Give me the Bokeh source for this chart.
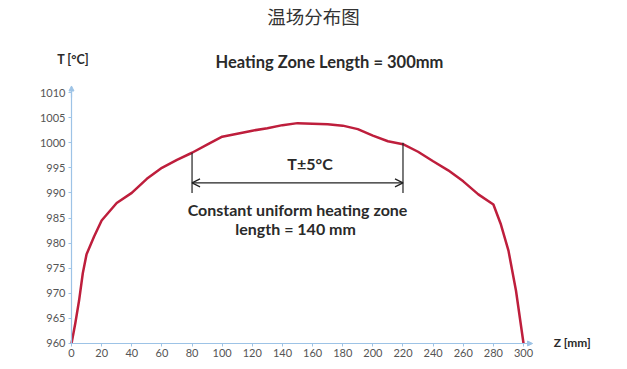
from bokeh.plotting import figure
from bokeh.models import Label, Arrow, OpenHead, NormalHead, FixedTicker, Range1d
from bokeh.embed import file_html
from bokeh.resources import INLINE

# data
z_mm = [0, 2.5, 5, 7.5, 10, 15, 20, 30, 40, 50, 60, 70, 80, 90, 100, 110, 120, 130, 140, 150,
        160, 170, 180, 190, 200, 210, 220, 230, 240, 250, 260, 270, 280, 285, 290, 295, 300]
temp_c = [960, 964, 968.5, 974, 977.8, 981.3, 984.5, 988, 990, 992.8, 995, 996.6, 998, 999.6,
          1001.2, 1001.8, 1002.4, 1002.9, 1003.5, 1003.9, 1003.8, 1003.7, 1003.4, 1002.7, 1001.4,
          1000.3, 999.7, 998.2, 996.3, 994.5, 992.3, 989.7, 987.7, 983.7, 978.5, 970.5, 960]
x_ticks = list(range(0, 301, 20))
y_ticks = list(range(960, 1011, 5))
zone_start, zone_end = 80, 220
zone_top_start, zone_top_end = 998, 1000
zone_bottom = 990
arrow_y = 992

FONT = "Lato"
AXIS_COL = "#9dc3e6"
LINE_COL = "#be1e3c"

p = figure(width=627, height=369, output_backend="svg", toolbar_location=None,
           x_range=Range1d(-47.12, 369.0), y_range=Range1d(954.82, 1028.33),
           min_border_left=0, min_border_right=0, min_border_top=0, min_border_bottom=0)
p.outline_line_color = None
p.xgrid.visible = False
p.ygrid.visible = False
p.background_fill_color = "white"

for ax in (p.xaxis[0], p.yaxis[0]):
    ax.axis_line_color = AXIS_COL
    ax.axis_line_width = 1.2
    ax.major_tick_line_color = AXIS_COL
    ax.minor_tick_line_color = None
    ax.major_tick_out = 3
    ax.major_tick_in = 0
    ax.major_label_text_font = FONT
    ax.major_label_text_font_size = "11px"
    ax.major_label_text_color = "#555555"
    ax.major_label_standoff = 3

p.xaxis.ticker = FixedTicker(ticks=x_ticks)
p.yaxis.ticker = FixedTicker(ticks=y_ticks)
p.xaxis.bounds = (0, 304)
p.yaxis.bounds = (960, 1010.5)
p.xaxis.fixed_location = 960
p.yaxis.fixed_location = 0

# axis arrows
p.add_layout(Arrow(end=NormalHead(size=5, fill_color=AXIS_COL, line_color=AXIS_COL),
                   x_start=300, y_start=960, x_end=306, y_end=960,
                   line_color=AXIS_COL, line_width=1.2))
p.add_layout(Arrow(end=NormalHead(size=5, fill_color=AXIS_COL, line_color=AXIS_COL),
                   x_start=0, y_start=1009, x_end=0, y_end=1011.3,
                   line_color=AXIS_COL, line_width=1.2))

# temperature curve
p.line(z_mm, temp_c, line_color=LINE_COL, line_width=2.5, line_join="round")

# zone markers
p.segment(x0=[zone_start, zone_end], y0=[zone_bottom, zone_bottom],
          x1=[zone_start, zone_end], y1=[zone_top_start, zone_top_end],
          line_color="#222222", line_width=1.2)
p.add_layout(Arrow(start=OpenHead(size=8, line_color="#222222", line_width=1.2),
                   end=OpenHead(size=8, line_color="#222222", line_width=1.2),
                   x_start=zone_start, y_start=arrow_y, x_end=zone_end, y_end=arrow_y,
                   line_color="#222222", line_width=1.2))

def lab(x, y, text, size, bold=True, color="#2a2a2a", align="center", font=FONT):
    p.add_layout(Label(x=x, y=y, text=text, text_font=font, text_font_size=size,
                       text_font_style="bold" if bold else "normal", text_color=color,
                       text_align=align, text_baseline="middle"))

lab(160.6, 1025.2, "温场分布图", "18.5px", bold=False, color="#333333", font="Noto Sans CJK SC")
lab(171.2, 1016.0, "Heating Zone Length = 300mm", "16.5px")
lab(-9.5, 1016.6, "T [°C]", "12.5px", align="left")
lab(158.3, 995.9, "T±5°C", "16px")
lab(150, 986.7, "Constant uniform heating zone", "16px")
lab(150, 982.9, "length  = 140 mm", "16px")
lab(320, 960.2, "Z  [mm]", "12px", align="left")

open("out.html", "w").write(file_html(p, INLINE))
